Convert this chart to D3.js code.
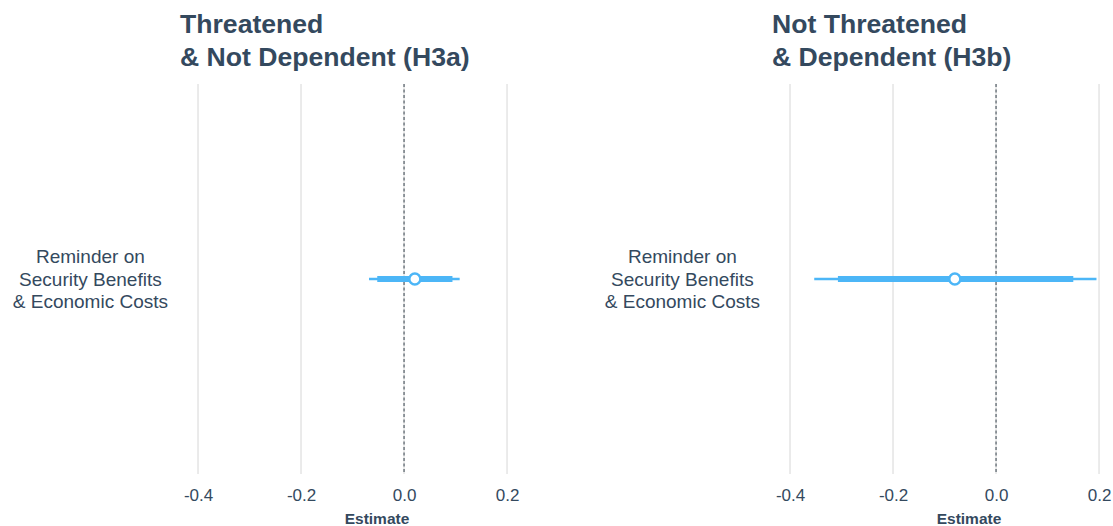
<!DOCTYPE html>
<html>
<head>
<meta charset="utf-8">
<script src="https://cdn.jsdelivr.net/npm/d3@7"></script>
<style>
  html, body { margin: 0; padding: 0; background: #ffffff; }
  svg { display: block; font-family: "Liberation Sans", Arial, Helvetica, sans-serif; }
</style>
</head>
<body>
<svg id="chart" width="1113" height="526"></svg>
<script>
// Coefficient estimates with 90% (thick) and 95% (thin) confidence intervals
const panelTitles = [["Threatened", "& Not Dependent (H3a)"], ["Not Threatened", "& Dependent (H3b)"]];
const termLabel = ["Reminder on", "Security Benefits", "& Economic Costs"];
const estimates = [0.021, -0.080];
const ci90Low  = [-0.052, -0.307];
const ci90High = [0.094, 0.150];
const ci95Low  = [-0.068, -0.353];
const ci95High = [0.108, 0.195];
const tickValues = [-0.4, -0.2, 0.0, 0.2];
const xDomain = [-0.435, 0.33];

const textColor = "#34495e";
const markColor = "#4cb6f7";
const gridColor = "#e6e6e6";

const svg = d3.select("#chart");
const panelLefts = [180, 772];
const panelWidth = 394;
const panelTop = 84, panelBottom = 474;

panelLefts.forEach((left, i) => {
  const x = d3.scaleLinear().domain(xDomain).range([left, left + panelWidth]);
  const y = d3.scaleBand().domain([termLabel.join(" ")]).range([panelTop, panelBottom]);
  const yc = y(termLabel.join(" ")) + y.bandwidth() / 2;
  const g = svg.append("g");

  // vertical grid lines
  g.selectAll("line.grid").data(tickValues).join("line")
    .attr("class", "grid")
    .attr("x1", d => x(d)).attr("x2", d => x(d))
    .attr("y1", panelTop).attr("y2", panelBottom)
    .attr("stroke", gridColor).attr("stroke-width", 1.6);

  // reference line at zero
  g.append("line")
    .attr("x1", x(0)).attr("x2", x(0))
    .attr("y1", panelTop).attr("y2", panelBottom)
    .attr("stroke", "#34404c").attr("stroke-width", 1)
    .attr("stroke-dasharray", "3,2.5");

  // x tick labels
  const axis = d3.axisBottom(x).tickValues(tickValues)
    .tickFormat(d => d.toFixed(1)).tickSize(0).tickPadding(0);
  const ax = g.append("g").attr("transform", `translate(0,${panelBottom + 27})`).call(axis);
  ax.select(".domain").remove();
  ax.selectAll("text")
    .attr("dy", 0)
    .attr("fill", textColor)
    .style("font-size", "17px")
    .style("font-family", "'Liberation Sans', Arial, sans-serif");

  // x axis title
  g.append("text")
    .attr("x", x((xDomain[0] + xDomain[1]) / 2))
    .attr("y", 524)
    .attr("text-anchor", "middle")
    .attr("fill", textColor)
    .style("font-size", "15.5px")
    .style("font-weight", "bold")
    .text("Estimate");

  // panel title
  const title = g.append("text")
    .attr("x", left)
    .attr("fill", textColor)
    .style("font-size", "26.6px")
    .style("font-weight", "bold");
  panelTitles[i].forEach((t, k) => {
    title.append("tspan").attr("x", left).attr("y", 33 + k * 33).text(t);
  });

  // term label (right aligned block, centred lines)
  const lab = g.append("text")
    .attr("fill", textColor)
    .attr("text-anchor", "middle")
    .style("font-size", "19px");
  const spans = termLabel.map((t, k) =>
    lab.append("tspan").attr("y", yc - 16 + k * 22.5).text(t));
  let maxW = 0;
  spans.forEach(s => { maxW = Math.max(maxW, s.node().getComputedTextLength()); });
  const cx = left - 12 - maxW / 2;
  spans.forEach(s => s.attr("x", cx));

  // 95% interval
  g.append("line")
    .attr("x1", x(ci95Low[i])).attr("x2", x(ci95High[i]))
    .attr("y1", yc).attr("y2", yc)
    .attr("stroke", markColor).attr("stroke-width", 2.6);
  // 90% interval
  g.append("line")
    .attr("x1", x(ci90Low[i])).attr("x2", x(ci90High[i]))
    .attr("y1", yc).attr("y2", yc)
    .attr("stroke", markColor).attr("stroke-width", 6);
  // point estimate
  g.append("circle")
    .attr("cx", x(estimates[i])).attr("cy", yc).attr("r", 5.5)
    .attr("fill", "#ffffff")
    .attr("stroke", markColor).attr("stroke-width", 2.4);
});
</script>
</body>
</html>
